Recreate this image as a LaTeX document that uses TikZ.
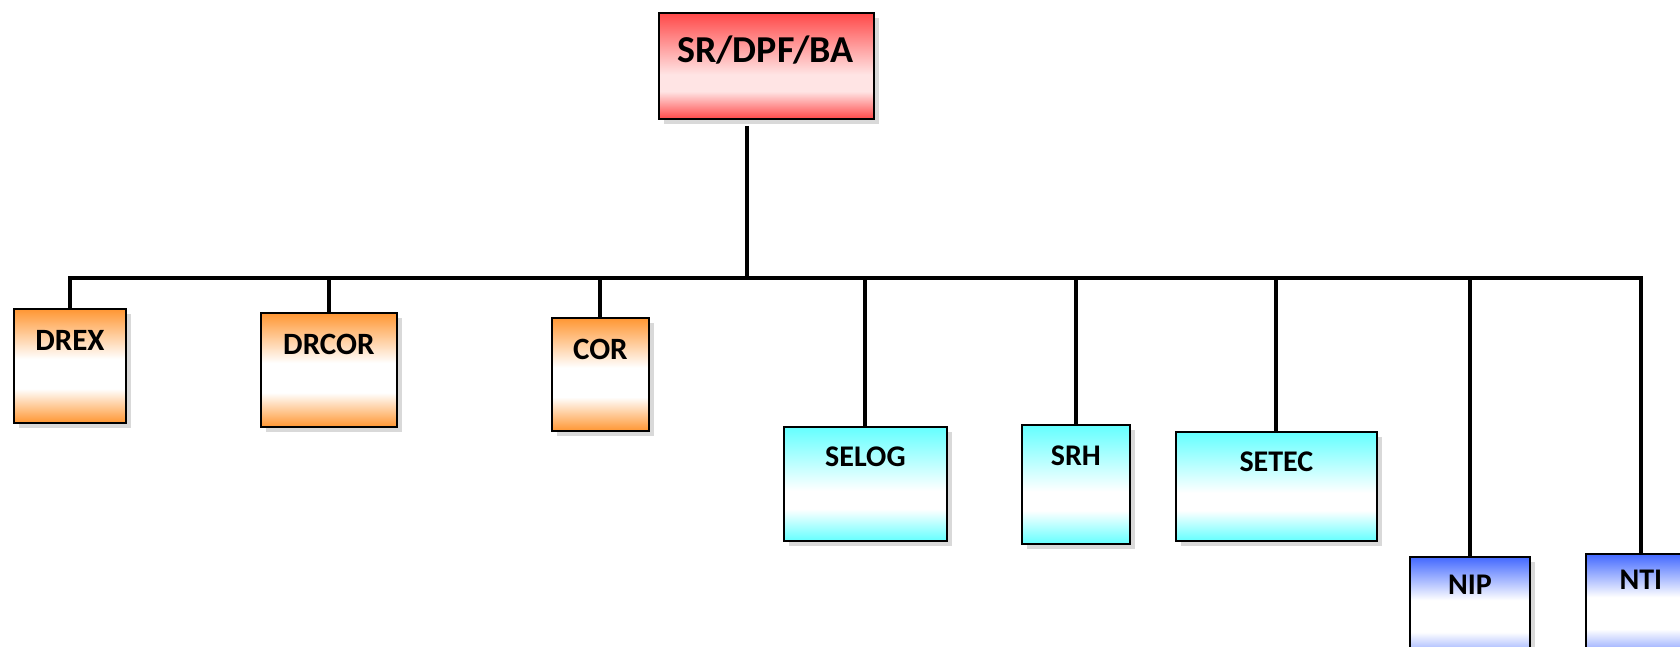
\documentclass[tikz,border=0pt]{standalone}
\usepackage{fontspec}
\setmainfont{Carlito}
\usetikzlibrary{shadows,calc}
\definecolor{orng}{RGB}{255,150,50}
\definecolor{redc}{RGB}{255,72,72}
\definecolor{pinkc}{RGB}{255,228,228}
\definecolor{cyanc}{RGB}{100,255,255}
\definecolor{bluec}{RGB}{66,104,255}
\pgfdeclareverticalshading{shorange}{100bp}{color(0bp)=(orng); color(25bp)=(orng); color(40bp)=(white); color(53bp)=(white); color(75bp)=(orng); color(100bp)=(orng)}
\pgfdeclareverticalshading{shred}{100bp}{color(0bp)=(redc); color(25bp)=(redc); color(38bp)=(pinkc); color(46bp)=(pinkc); color(75bp)=(redc); color(100bp)=(redc)}
\pgfdeclareverticalshading{shcyan}{100bp}{color(0bp)=(cyanc); color(25bp)=(cyanc); color(39bp)=(white); color(47bp)=(white); color(75bp)=(cyanc); color(100bp)=(cyanc)}
\pgfdeclareverticalshading{shblue}{100bp}{color(0bp)=(bluec); color(25bp)=(bluec); color(42bp)=(white); color(56bp)=(white); color(75bp)=(bluec); color(100bp)=(bluec)}
\begin{document}
\begin{tikzpicture}[x=1pt,y=-1pt,
  box/.style={draw=black, line width=1.8pt, inner sep=0pt, anchor=north west,
    drop shadow={shadow xshift=5pt,shadow yshift=-5pt,fill=black!15,opacity=1}},
  lbl/.style={anchor=base, font=\bfseries\fontsize{31}{33}\selectfont, inner sep=0pt},
  lbls/.style={anchor=base, font=\bfseries\fontsize{30}{32}\selectfont, inner sep=0pt},
  conn/.style={draw=black, line width=4pt, line join=miter}]
\useasboundingbox (0,0) rectangle (1680,646);
\clip (0,0) rectangle (1680,646);
\fill[white] (0,0) rectangle (1680,646);

% root
\node[box, shading=shred, minimum width=215pt, minimum height=106pt] (root) at (658,12) {};
\node[anchor=base, font=\bfseries\fontsize{38}{40}\selectfont, inner sep=0pt] (roott) at (765.5,62) {SR/DPF/BA};

% orange
\node[box, shading=shorange, minimum width=112pt, minimum height=114pt] (drex) at (13,308) {};
\node[lbl] (drext) at (drex.north |- 0,350) {DREX};
\node[box, shading=shorange, minimum width=136pt, minimum height=114pt] (drcor) at (260,312) {};
\node[lbl] (drcort) at (drcor.north |- 0,354) {DRCOR};
\node[box, shading=shorange, minimum width=97pt, minimum height=113pt] (cor) at (551,317) {};
\node[lbl] (cort) at (cor.north |- 0,359) {COR};

% cyan
\node[box, shading=shcyan, minimum width=163pt, minimum height=114pt] (selog) at (783,426) {};
\node[lbls] (selogt) at (selog.north |- 0,466) {SELOG};
\node[box, shading=shcyan, minimum width=108pt, minimum height=119pt] (srh) at (1021,424) {};
\node[lbls] (srht) at (srh.north |- 0,465) {SRH};
\node[box, shading=shcyan, minimum width=201pt, minimum height=109pt] (setec) at (1175,431) {};
\node[lbls] (setect) at (setec.north |- 0,471) {SETEC};

% blue
\node[box, shading=shblue, minimum width=120pt, minimum height=114pt] (nip) at (1409,556) {};
\node[lbls] (nipt) at (nip.north |- 0,594) {NIP};
\node[box, shading=shblue, minimum width=110pt, minimum height=114pt] (nti) at (1585,553) {};
\node[lbls] (ntit) at (nti.north |- 0,589) {NTI};

% connectors
\coordinate (bar) at (747,278);
\draw[conn] ([yshift=-6pt]root.south -| bar) -- (bar);
\draw[conn] (drex.north) -- (drex.north |- bar) -- (nti.north |- bar) -- (nti.north);
\foreach \n in {drcor,cor,selog,srh,setec,nip}
  \draw[conn] (\n.north) -- (\n.north |- bar);
\end{tikzpicture}
\end{document}
